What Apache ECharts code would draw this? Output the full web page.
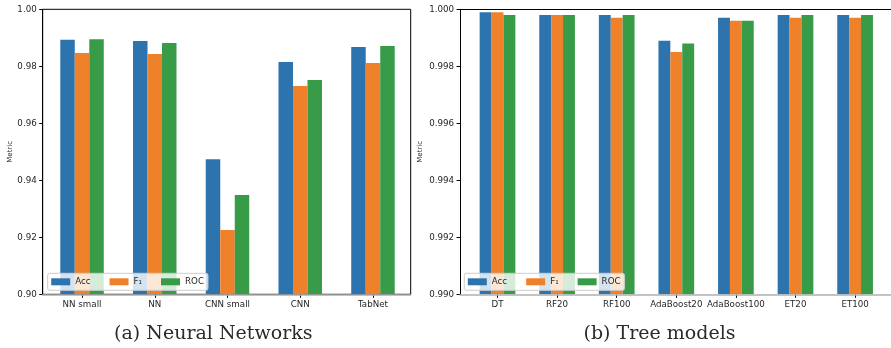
<!DOCTYPE html>
<html>
<head>
<meta charset="utf-8">
<script src="https://cdn.jsdelivr.net/npm/echarts@6/dist/echarts.min.js"></script>
<style>html,body{margin:0;padding:0;background:#fff}#c{width:891px;height:348px}</style>
</head>
<body>
<div id="c"></div>
<script>
// ---- data ----
const nnCategories = ['NN small', 'NN', 'CNN small', 'CNN', 'TabNet'];
const nnAcc = [0.9893, 0.9889, 0.9474, 0.9815, 0.9868];
const nnF1  = [0.9847, 0.9843, 0.9226, 0.9731, 0.9812];
const nnRoc = [0.9895, 0.9882, 0.9348, 0.9752, 0.9871];

const treeCategories = ['DT', 'RF20', 'RF100', 'AdaBoost20', 'AdaBoost100', 'ET20', 'ET100'];
const treeAcc = [0.9999, 0.9998, 0.9998, 0.9989, 0.9997, 0.9998, 0.9998];
const treeF1  = [0.9999, 0.9998, 0.9997, 0.9985, 0.9996, 0.9997, 0.9997];
const treeRoc = [0.9998, 0.9998, 0.9998, 0.9988, 0.9996, 0.9998, 0.9998];

const seriesNames = ['Acc', 'F\u2081', 'ROC'];
const nnYTicks = {min: 0.90, max: 1.00, interval: 0.02, digits: 2};
const treeYTicks = {min: 0.990, max: 1.000, interval: 0.002, digits: 3};
const captions = ['(a) Neural Networks', '(b) Tree models'];

// ---- style ----
const colors = ['#2d74af', '#f0812b', '#389b48'];
const FONT = 'DejaVu Sans';
const txt = '#262626';

function frameY(gi, t, nameGap) {
  return {
    type: 'value', gridIndex: gi, min: t.min, max: t.max, interval: t.interval,
    name: 'Metric', nameLocation: 'middle', nameGap: nameGap, nameRotate: 90,
    nameTextStyle: {fontFamily: FONT, fontSize: 7, color: txt},
    axisLine: {show: true, lineStyle: {color: '#000', width: 1}},
    axisTick: {show: true, length: 3.5, lineStyle: {color: '#000'}},
    axisLabel: {fontFamily: FONT, fontSize: 8.7, color: txt, margin: 6,
      formatter: v => v.toFixed(t.digits)},
    splitLine: {show: false}
  };
}
function frameX(gi) {
  return {
    type: 'value', gridIndex: gi, min: 0, max: 1, z: 5,
    axisLine: {show: true, lineStyle: {color: '#b0b0b0', width: 1.5}},
    axisTick: {show: false}, axisLabel: {show: false}, splitLine: {show: false}
  };
}
function topX(gi) {
  return {
    type: 'value', gridIndex: gi, min: 0, max: 1, position: 'top',
    axisLine: {show: true, lineStyle: {color: '#000', width: 1}},
    axisTick: {show: false}, axisLabel: {show: false}, splitLine: {show: false}
  };
}
function barX(gi, cats) {
  return {
    type: 'category', gridIndex: gi, data: cats, boundaryGap: true,
    axisLine: {show: false},
    axisTick: {show: true, alignWithLabel: true, length: 3.5, lineStyle: {color: '#000'}},
    axisLabel: {interval: 0, fontFamily: FONT, fontSize: 8.7, color: txt, margin: 6},
    splitLine: {show: false}
  };
}
function barY(gi, t) {
  return {type: 'value', gridIndex: gi, min: t.min, max: t.max, show: false, splitLine: {show: false}};
}
function bars(xi, arrs, w) {
  return arrs.map((d, i) => ({
    type: 'bar', name: seriesNames[i], xAxisIndex: xi, yAxisIndex: xi === 1 ? 1 : 3,
    data: d, barWidth: w, barGap: '0%', itemStyle: {color: colors[i]},
    clip: true, animation: false
  }));
}
function legend(left, top) {
  return {
    left: left, top: top, orient: 'horizontal', icon: 'rect',
    itemWidth: 19, itemHeight: 7, itemGap: 19,
    padding: [4, 4, 4, 3.5],
    backgroundColor: 'rgba(255,255,255,0.8)', borderColor: '#cccccc', borderWidth: 1, borderRadius: 2,
    textStyle: {fontFamily: FONT, fontSize: 8.7, color: txt},
    data: seriesNames, selectedMode: false
  };
}

const chart = echarts.init(document.getElementById('c'), null, {renderer: 'canvas'});
chart.setOption({
  animation: false,
  backgroundColor: '#fff',
  title: [
    {text: captions[0], left: 208.3, top: 320, textAlign: 'center',
     textStyle: {fontFamily: 'DejaVu Serif', fontSize: 19, fontWeight: 'normal', color: '#2a2a2a'}},
    {text: captions[1], left: 654.5, top: 320, textAlign: 'center',
     textStyle: {fontFamily: 'DejaVu Serif', fontSize: 19, fontWeight: 'normal', color: '#2a2a2a'}}
  ],
  grid: [
    {left: 42.7, top: 9.3, width: 368, height: 285, show: true, borderColor: '#000', borderWidth: 1, containLabel: false},
    {left: 45.65, top: 9.3, width: 363.7, height: 285, containLabel: false},
    {left: 460, top: 9.3, width: 432.6, height: 285, containLabel: false},
    {left: 467.7, top: 9.3, width: 417.2, height: 285, containLabel: false}
  ],
  xAxis: [frameX(0), barX(1, nnCategories), frameX(2), barX(3, treeCategories), topX(2)],
  yAxis: [frameY(0, nnYTicks, 22), barY(1, nnYTicks), frameY(2, treeYTicks, 36), barY(3, treeYTicks)],
  legend: [legend(47.7, 273.3), legend(464.3, 273.3)],
  series: [
    ...bars(1, [nnAcc, nnF1, nnRoc], 14.5),
    ...bars(3, [treeAcc, treeF1, treeRoc], 11.9)
  ]
});
</script>
</body>
</html>
